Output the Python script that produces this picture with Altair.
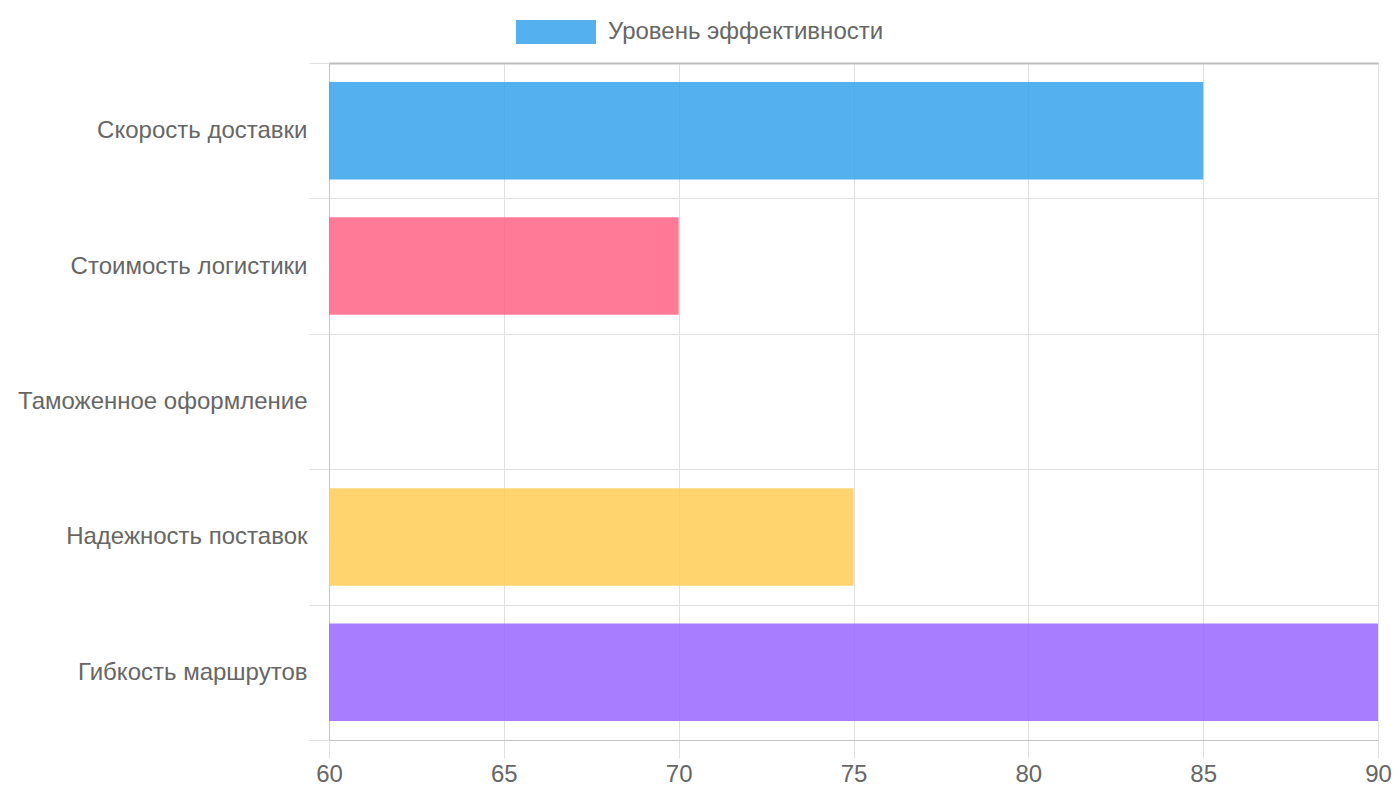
import pandas as pd
import altair as alt

# ==================== 데이터 ====================
categories = [
    "Скорость доставки",
    "Стоимость логистики",
    "Таможенное оформление",
    "Надежность поставок",
    "Гибкость маршрутов",
]
values = [85, 70, 58, 75, 90]
bar_colors = ["#36a2eb", "#ff6384", "#4bc0c0", "#ffcd56", "#9966ff"]
series_name = "Уровень эффективности"
x_ticks = [60, 65, 70, 75, 80, 85, 90]

FONT = "Liberation Sans"
TEXT_COLOR = "#666666"
GRID_COLOR = "#e0e0e0"
AXIS_COLOR = "#c4c4c4"
FONT_SIZE = 24

df = pd.DataFrame({
    "category": categories,
    "value": values,
    "color": bar_colors,
    "series": series_name,
})

x_scale = alt.Scale(domain=[60, 90], zero=False, nice=False)

bars = alt.Chart(df).mark_bar(
    opacity=0.85, strokeWidth=0, clip=True, height=alt.RelativeBandSize(0.72)
).encode(
    x=alt.X(
        "value:Q",
        title=None,
        scale=x_scale,
        axis=alt.Axis(
            values=x_ticks,
            grid=True,
            gridColor=GRID_COLOR,
            tickColor=GRID_COLOR,
            tickSize=18,
            domainColor=AXIS_COLOR,
            labelFontSize=FONT_SIZE,
            labelColor=TEXT_COLOR,
            labelFont=FONT,
            labelPadding=4,
            labelFlush=False,
        ),
    ),
    y=alt.Y(
        "category:N",
        title=None,
        sort=categories,
        scale=alt.Scale(paddingInner=0, paddingOuter=0),
        axis=alt.Axis(
            grid=True,
            tickBand="extent",
            gridColor=GRID_COLOR,
            tickColor=GRID_COLOR,
            tickSize=20,
            domainColor=AXIS_COLOR,
            labelFontSize=FONT_SIZE,
            labelColor=TEXT_COLOR,
            labelFont=FONT,
            labelPadding=2,
            labelLimit=400,
        ),
    ),
    fill=alt.Fill("color:N", scale=None),
    stroke=alt.Stroke(
        "series:N",
        title=None,
        scale=alt.Scale(range=["#36a2eb"]),
        legend=alt.Legend(
            orient="none",
            legendX=187,
            legendY=-71,
            symbolType="M-1,-0.3L1,-0.3L1,0.3L-1,0.3Z",
            symbolSize=6400,
            symbolFillColor="#36a2eb",
            symbolStrokeWidth=0,
            labelFontSize=FONT_SIZE,
            labelColor=TEXT_COLOR,
            labelFont=FONT,
            labelOffset=12,
            labelLimit=600,
            padding=0,
        ),
    ),
)

# верхняя граница области графика
top_edge = alt.Chart(df).mark_point(opacity=0).encode(
    x=alt.X(
        "value:Q",
        scale=x_scale,
        axis=alt.Axis(
            orient="top",
            title=None,
            labels=False,
            ticks=False,
            grid=False,
            domainColor="#bdbdbd",
            domainWidth=2,
        ),
    ),
)

chart = alt.layer(bars, top_edge).resolve_axis(x="independent").properties(
    width=1049,
    height=677,
    autosize=alt.AutoSizeParams(type="none"),
    padding={"left": 321, "top": 55, "right": 14, "bottom": 52},
).configure_view(stroke=None).configure(background="white")

chart.save("out.html", embed_options={"renderer": "svg", "actions": False})
